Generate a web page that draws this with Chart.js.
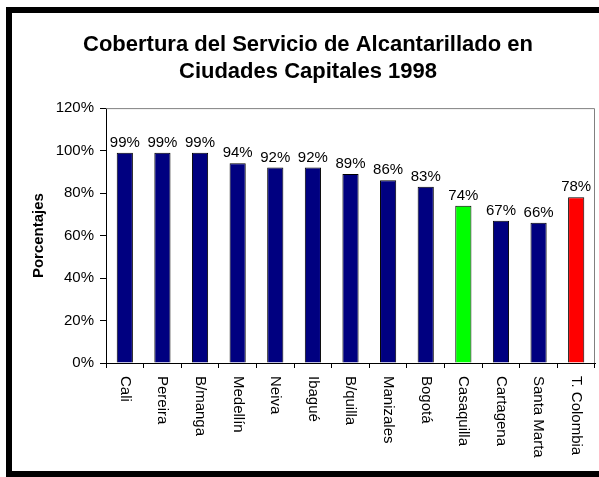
<!DOCTYPE html>
<html>
<head>
<meta charset="utf-8">
<script src="https://cdn.jsdelivr.net/npm/chart.js@4"></script>
<style>
  html, body { margin: 0; padding: 0; background: #fff; overflow: hidden; width: 599px; height: 477px; }
  #frame { position: absolute; left: 6px; top: 7px; width: 587px; height: 458px; border-left: 6px solid #000; border-top: 6px solid #000; border-bottom: 6px solid #000; border-right: none; }
  #wrap { position: absolute; left: 0; top: 0; width: 599px; height: 477px; }
</style>
</head>
<body>
<div id="frame"></div>
<div id="wrap"><canvas id="c" width="599" height="477"></canvas></div>
<script>
const categories = ["Cali", "Pereira", "B/manga", "Medellín", "Neiva", "Ibagué", "B/quilla", "Manizales", "Bogotá", "Casaquilla", "Cartagena", "Santa Marta", "T. Colombia"];
const coverage = [99, 99, 99, 94, 92, 92, 89, 86, 83, 74, 67, 66, 78];
const barColors = ["#000080", "#000080", "#000080", "#000080", "#000080", "#000080", "#000080", "#000080", "#000080", "#00FF00", "#000080", "#000080", "#FF0000"];
const titleLines = ["Cobertura del Servicio de Alcantarillado en", "Ciudades Capitales 1998"];
const yTitle = "Porcentajes";

const FONT = "'Liberation Sans', Arial, sans-serif";
Chart.defaults.font.family = FONT;
Chart.defaults.font.size = 15;
Chart.defaults.color = '#000';

const decor = {
  id: 'decor',
  beforeDatasetsDraw(chart) {
    const { ctx, chartArea: a } = chart;
    ctx.save();
    ctx.strokeStyle = '#808080';
    ctx.lineWidth = 1;
    ctx.beginPath();
    ctx.moveTo(a.left, a.top + 0.5);
    ctx.lineTo(a.right - 0.5, a.top + 0.5);
    ctx.lineTo(a.right - 0.5, a.bottom);
    ctx.stroke();
    ctx.restore();
  },
  afterDraw(chart) {
    const { ctx } = chart;
    const xs = chart.scales.x;
    const meta = chart.getDatasetMeta(0);
    ctx.save();
    ctx.fillStyle = '#000';
    ctx.font = '15px ' + FONT;
    ctx.textAlign = 'center';
    ctx.textBaseline = 'alphabetic';
    meta.data.forEach((bar, i) => {
      ctx.fillText(coverage[i] + '%', bar.x, bar.y - 6);
    });
    ctx.textAlign = 'left';
    ctx.textBaseline = 'middle';
    categories.forEach((lab, i) => {
      const x = xs.getPixelForTick(i);
      ctx.save();
      ctx.translate(x, xs.top + 13);
      ctx.rotate(Math.PI / 2);
      ctx.fillText(lab, 0, 0);
      ctx.restore();
    });
    ctx.restore();
  }
};

new Chart(document.getElementById('c'), {
  type: 'bar',
  data: {
    labels: categories,
    datasets: [{
      data: coverage,
      backgroundColor: barColors,
      borderColor: '#000',
      borderWidth: 1,
      categoryPercentage: 1,
      barPercentage: 0.43
    }]
  },
  options: {
    responsive: false,
    animation: false,
    layout: { padding: { left: 21, right: 4, top: 21, bottom: 14 } },
    plugins: {
      legend: { display: false },
      tooltip: { enabled: false },
      title: {
        display: true,
        text: titleLines,
        color: '#000',
        font: { size: 22, weight: 'bold', lineHeight: 1.23 },
        padding: { top: 10, bottom: 23 }
      }
    },
    scales: {
      x: {
        grid: { display: true, drawOnChartArea: false, drawTicks: true, tickLength: 5, color: '#000', offset: true },
        border: { display: true, color: '#000', width: 1 },
        ticks: { display: false },
        afterFit(s) { s.height = 100; }
      },
      y: {
        min: 0, max: 120,
        grid: { drawOnChartArea: false, drawTicks: true, tickLength: 6, color: '#000' },
        border: { display: true, color: '#000', width: 1 },
        ticks: { stepSize: 20, padding: 6, callback: v => v + '%', font: { size: 15 } },
        title: { display: true, text: yTitle, font: { size: 15, weight: 'bold', lineHeight: 1.2 }, padding: { top: 9, bottom: 0 } },
        afterFit(s) { s.width = 85; }
      }
    }
  },
  plugins: [decor]
});
</script>
</body>
</html>
